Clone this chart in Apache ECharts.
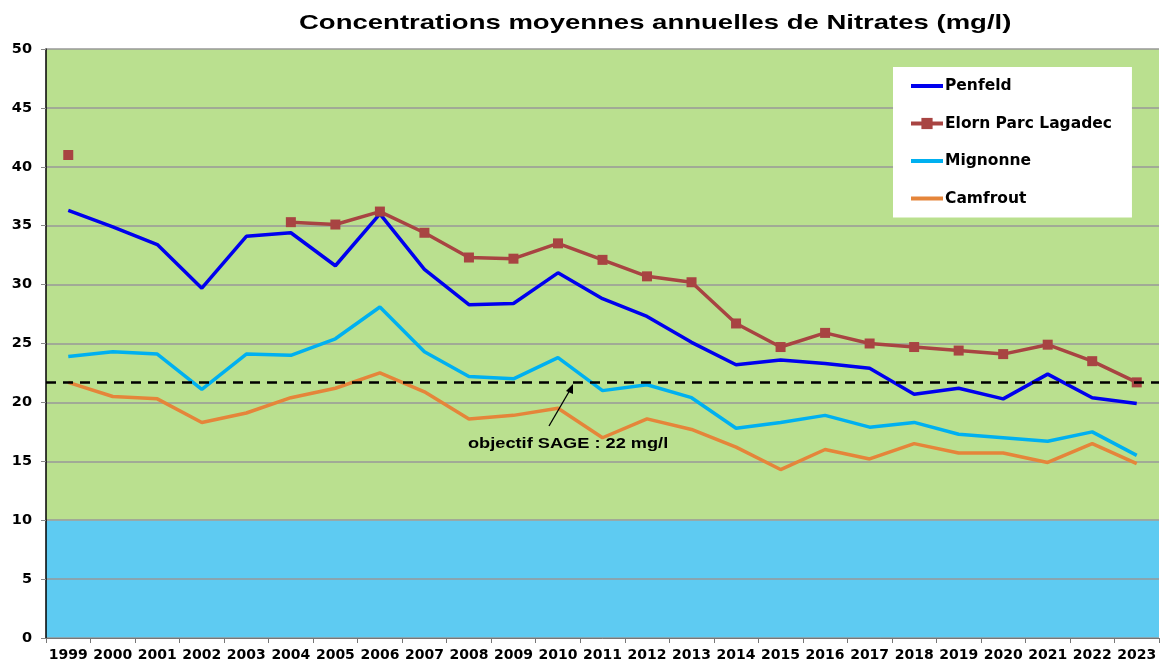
<!DOCTYPE html>
<html>
<head>
<meta charset="utf-8">
<title>Nitrates</title>
<script src="https://cdn.jsdelivr.net/npm/echarts@6/dist/echarts.min.js"></script>
<style>
  html, body { margin: 0; padding: 0; background: #fff; }
  #chart { width: 1162px; height: 662px; }
</style>
</head>
<body>
<div id="chart"></div>
<script>
// annees
var years = ['1999', '2000', '2001', '2002', '2003', '2004', '2005', '2006', '2007', '2008', '2009', '2010',
  '2011', '2012', '2013', '2014', '2015', '2016', '2017', '2018', '2019', '2020', '2021', '2022', '2023']

// concentrations (mg/l)
var penfeld = [36.3, 34.9, 33.4, 29.7, 34.1, 34.4, 31.6, 36.0, 31.3, 28.3, 28.4, 31.0,
  28.8, 27.3, 25.1, 23.2, 23.6, 23.3, 22.9, 20.7, 21.2, 20.3, 22.4, 20.4, 19.9]
var elorn = [41.0, null, null, null, null, 35.3, 35.1, 36.2, 34.4, 32.3, 32.2, 33.5,
  32.1, 30.7, 30.2, 26.7, 24.7, 25.9, 25.0, 24.7, 24.4, 24.1, 24.9, 23.5, 21.7]
var mignonne = [23.9, 24.3, 24.1, 21.1, 24.1, 24.0, 25.4, 28.1, 24.3, 22.2, 22.0, 23.8,
  21.0, 21.5, 20.4, 17.8, 18.3, 18.9, 17.9, 18.3, 17.3, 17.0, 16.7, 17.5, 15.5]
var camfrout = [21.7, 20.5, 20.3, 18.3, 19.1, 20.4, 21.2, 22.5, 20.9, 18.6, 18.9, 19.5,
  17.0, 18.6, 17.7, 16.2, 14.3, 16.0, 15.2, 16.5, 15.7, 15.7, 14.9, 16.5, 14.8]

var seuilTrace = 21.7 // ligne pointillee objectif SAGE
var bandes = [[0, 10, '#5ecbf2'], [10, 50, '#bae08f']]

var fontTitre = 'Liberation Sans, Arial, sans-serif'
var fontAxes = 'DejaVu Sans, Verdana, sans-serif'

var chart = echarts.init(document.getElementById('chart'))

var fond = bandes.map(function (b) {
  return [{ yAxis: b[0], itemStyle: { color: b[2] } }, { yAxis: b[1] }]
})

var traitLegende = { width: 4 }

chart.setOption({
  animation: false,
  backgroundColor: '#fff',
  textStyle: { fontFamily: fontAxes },
  grid: { left: 46, right: 3, top: 49, bottom: 24 },
  legend: {
    data: [
      { name: 'Penfeld', itemStyle: { opacity: 0 }, lineStyle: traitLegende },
      { name: 'Elorn Parc Lagadec', lineStyle: traitLegende },
      { name: 'Mignonne', itemStyle: { opacity: 0 }, lineStyle: traitLegende },
      { name: 'Camfrout', itemStyle: { opacity: 0 }, lineStyle: traitLegende }
    ],
    orient: 'vertical',
    left: 893,
    top: 67,
    padding: [11, 20, 11, 16],
    itemGap: 21.5,
    itemWidth: 32,
    itemHeight: 14,
    backgroundColor: '#fff',
    textStyle: { fontSize: 15.5, fontWeight: 'bold', color: '#000', fontFamily: fontAxes, padding: [0, 0, 0, -3] }
  },
  xAxis: {
    type: 'category',
    data: years,
    boundaryGap: true,
    z: 1.5,
    axisLine: { lineStyle: { color: '#777' } },
    axisTick: { show: true, length: 5, lineStyle: { color: '#777' } },
    axisLabel: { interval: 0, fontSize: 14, fontWeight: 'bold', color: '#000', margin: 10 }
  },
  yAxis: {
    type: 'value',
    min: 0,
    max: 50,
    interval: 5,
    z: 1.5,
    axisLine: { show: true, lineStyle: { color: '#000', width: 1.5 } },
    axisTick: { show: true, length: 5, lineStyle: { color: '#888' } },
    axisLabel: { fontSize: 14.5, fontWeight: 'bold', color: '#000', margin: 14 },
    splitLine: { lineStyle: { color: '#999', width: 1.5 } }
  },
  series: [
    {
      name: 'fond',
      type: 'line',
      silent: true,
      data: [],
      markArea: { silent: true, data: fond }
    },
    {
      name: 'Penfeld',
      type: 'line',
      data: penfeld,
      symbol: 'none',
      lineStyle: { color: '#0000ee', width: 3.5 },
      itemStyle: { color: '#0000ee' },
      markLine: {
        silent: true,
        symbol: 'none',
        label: { show: false },
        lineStyle: { color: '#000', type: [10, 7], width: 2.5 },
        data: [{ yAxis: seuilTrace }]
      }
    },
    {
      name: 'Elorn Parc Lagadec',
      type: 'line',
      data: elorn,
      symbol: 'rect',
      symbolSize: 10,
      showSymbol: true,
      connectNulls: false,
      lineStyle: { color: '#a84442', width: 3.5 },
      itemStyle: { color: '#a84442' }
    },
    {
      name: 'Mignonne',
      type: 'line',
      data: mignonne,
      symbol: 'none',
      lineStyle: { color: '#00b0f0', width: 3.5 },
      itemStyle: { color: '#00b0f0' }
    },
    {
      name: 'Camfrout',
      type: 'line',
      data: camfrout,
      symbol: 'none',
      lineStyle: { color: '#e5853a', width: 3.5 },
      itemStyle: { color: '#e5853a' }
    }
  ],
  graphic: [
    {
      // titre, etire horizontalement comme l'original
      type: 'text',
      x: 299,
      y: 13,
      scaleX: 1.31,
      z: 10,
      style: {
        text: 'Concentrations moyennes annuelles de Nitrates (mg/l)',
        fontSize: 21, fontWeight: 'bold', fill: '#000', fontFamily: fontTitre,
        textAlign: 'left', textVerticalAlign: 'top'
      }
    },
    {
      type: 'text',
      x: 468,
      y: 437,
      scaleX: 1.3,
      z: 10,
      style: {
        text: 'objectif SAGE : 22 mg/l',
        fontSize: 14, fontWeight: 'bold', fill: '#000', fontFamily: fontTitre,
        textAlign: 'left', textVerticalAlign: 'top'
      }
    },
    {
      type: 'line',
      z: 10,
      shape: { x1: 549, y1: 426, x2: 570, y2: 390 },
      style: { stroke: '#000', lineWidth: 1.3 }
    },
    {
      type: 'polygon',
      z: 10,
      shape: { points: [[573, 384], [566, 391], [573, 394]] },
      style: { fill: '#000' }
    }
  ]
})
</script>
</body>
</html>
